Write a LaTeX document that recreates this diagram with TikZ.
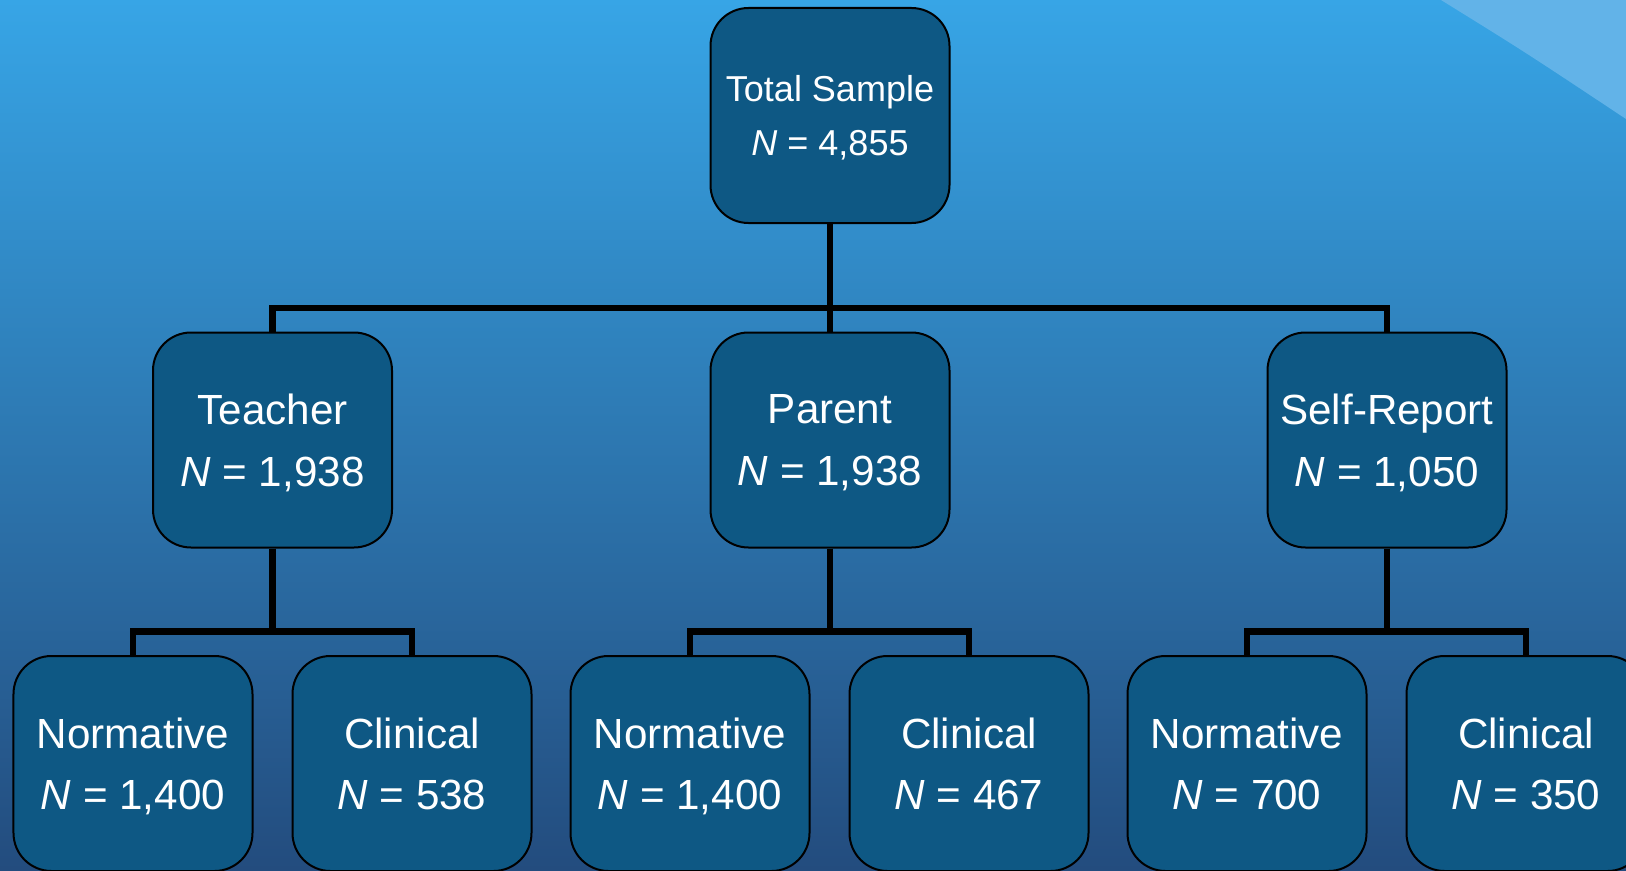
\documentclass[tikz,border=0pt]{standalone}
\usepackage{fontspec}
\setmainfont{Liberation Sans}
\usetikzlibrary{calc}
\definecolor{SkyTop}{HTML}{37A5E6}
\definecolor{SkyMid}{HTML}{2E80C0}
\definecolor{SkyLow}{HTML}{234C7E}
\definecolor{Gloss}{HTML}{62B3E8}
\definecolor{BoxFill}{HTML}{0E5884}
\tikzset{box/.style={draw=black,line width=0.4mm,fill=BoxFill,text=white,
 rounded corners=7.6mm,minimum width=47.8mm,minimum height=43mm,align=center,
 inner sep=0pt},toptext/.style={font=\fontsize{20.5}{30.5}\selectfont,text depth=-1.8mm},
 subtext/.style={font=\fontsize{24}{35}\selectfont,text depth=-0.5mm},
 link/.style={draw=black,line width=1.3mm}}

\begin{document}
\begin{tikzpicture}[x=0.2mm,y=-0.2mm]
\useasboundingbox (0,0) rectangle (1626,870);
\clip (0,0) rectangle (1626,870);
\shade[top color=SkyTop,middle color=SkyMid,bottom color=SkyLow] (0,0) rectangle (1626,870);
\fill[Gloss] (1441,0) .. controls (1525,52) .. (1626,119) -- (1626,0) -- cycle;
\node[box,toptext] (total) at (830,115.5) {Total Sample\\\textit{N} = 4,855};
\foreach \nm/\x/\lab/\n in {teach/272.5/Teacher/{1,938},par/830/Parent/{1,938},
 self/1387/Self-Report/{1,050}}
 {\node[box,subtext] (\nm) at (\x,440) {\lab\\\textit{N} = \n};
  \draw[link] (total.south) -- ++(0,84) -| (\nm.north);}
\foreach \up/\nm/\x/\lab/\n in {teach/tnorm/133/Normative/{1,400},
 teach/tclin/412/Clinical/538,par/pnorm/690/Normative/{1,400},par/pclin/969/Clinical/467,
 self/snorm/1247/Normative/700,self/sclin/1526/Clinical/350}
 {\node[box,subtext] (\nm) at (\x,763.5) {\lab\\\textit{N} = \n};
  \draw[link] (\up.south) -- ++(0,83) -| (\nm.north);}
\end{tikzpicture}
\end{document}
